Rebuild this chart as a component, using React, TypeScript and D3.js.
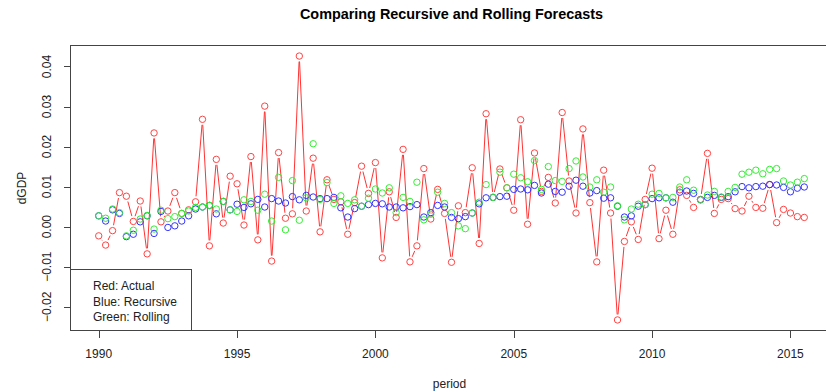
import * as d3 from 'd3';

// quarterly series, starting 1990 Q1
const startYear = 1990;
const frequency = 4;

const actual = [
  -0.0023, -0.0046, -0.001, 0.0085, 0.0076, 0.0013, 0.0064, -0.0068, 0.0234, 0.0012,
  0.0039, 0.0085, 0.0033, 0.0042, 0.0062, 0.0268, -0.0048, 0.0168, 0.0009, 0.0126,
  0.0107, 0.0004, 0.0175, -0.0033, 0.0301, -0.0086, 0.0185, 0.0021, 0.0032, 0.0426,
  0.0039, 0.0171, -0.0013, 0.0117, 0.0068, 0.0062, -0.0019, 0.006, 0.0151, 0.0083,
  0.016, -0.0078, 0.0087, 0.0023, 0.0193, -0.0088, -0.0048, 0.0145, 0.0019, 0.0093,
  0.0033, -0.0089, 0.0052, 0.0035, 0.0147, -0.0042, 0.0282, 0.0073, 0.0144, 0.0097,
  0.0041, 0.0267, 0.0006, 0.0184, 0.0088, 0.0123, 0.0059, 0.0285, 0.0114, 0.0034,
  0.0244, 0.006, -0.0088, 0.0141, 0.0034, -0.0233, -0.0037, 0.0012, -0.0032, 0.0068,
  0.0146, -0.003, 0.0041, -0.0019, 0.0092, 0.0078, 0.0048, 0.0068, 0.0183, 0.0033,
  0.0068, 0.007, 0.0045, 0.0039, 0.0076, 0.0048, 0.0046, 0.0105, 0.001, 0.0043,
  0.0034, 0.0025, 0.0023,
];

const recursive = [
  0.0027, 0.0014, 0.0042, 0.0033, -0.0025, -0.0019, 0.0012, 0.0027, -0.0017, 0.0038,
  -0.0002, 0.0002, 0.0014, 0.0027, 0.0044, 0.0049, 0.0053, 0.0032, 0.0063, 0.0042,
  0.0056, 0.0048, 0.0057, 0.0068, 0.0049, 0.007, 0.0064, 0.0059, 0.0075, 0.0067,
  0.0078, 0.0074, 0.007, 0.007, 0.0073, 0.0047, 0.0024, 0.0045, 0.0051, 0.0055,
  0.0058, 0.0057, 0.0049, 0.0049, 0.0047, 0.005, 0.0055, 0.0024, 0.0035, 0.0053,
  0.0049, 0.0023, 0.002, 0.0025, 0.0034, 0.0057, 0.0072, 0.0073, 0.0075, 0.0076,
  0.0093, 0.0094, 0.0092, 0.0103, 0.0084, 0.0106, 0.0088, 0.0086, 0.0101, 0.0116,
  0.0101, 0.0084, 0.009, 0.0071, 0.0072, 0.0051, 0.0024, 0.0027, 0.0051, 0.0055,
  0.007, 0.0072, 0.0072, 0.0061, 0.0086, 0.0089, 0.0083, 0.0067, 0.0073, 0.0078,
  0.0073, 0.0075, 0.0087, 0.01, 0.0097, 0.01, 0.0101, 0.0105, 0.0104, 0.0098,
  0.0087, 0.0096, 0.0099,
];

const rolling = [
  0.0027, 0.0021, 0.0044, 0.0035, -0.0023, -0.0009, 0.0019, 0.0028, -0.0006, 0.0041,
  0.002, 0.0025, 0.0033, 0.0039, 0.0048, 0.0049, 0.0053, 0.0044, 0.0063, 0.0042,
  0.0038, 0.0067, 0.0063, 0.0041, 0.0081, 0.0014, 0.0123, -0.0008, 0.0115, 0.0016,
  0.0072, 0.0207, 0.0068, 0.011, 0.0058, 0.0077, 0.0058, 0.0067, 0.0051, 0.0071,
  0.0094, 0.0084, 0.0097, 0.0035, 0.0073, 0.0063, 0.0111, 0.0017, 0.0031, 0.0086,
  0.0058, 0.0035, 0.0002, -0.0005, 0.0034, 0.0061, 0.0105, 0.0073, 0.0136, 0.0097,
  0.0131, 0.0122, 0.0112, 0.0165, 0.0093, 0.015, 0.0115, 0.0113, 0.0145, 0.0164,
  0.0124, 0.0099, 0.0117, 0.0086, 0.0099, 0.0052, 0.0017, 0.0044, 0.0056, 0.0055,
  0.0081, 0.0083, 0.0072, 0.0073, 0.0099, 0.0117, 0.0091, 0.0067, 0.0079, 0.0088,
  0.0074, 0.0088, 0.0098, 0.0131, 0.0136, 0.0141, 0.0132, 0.0143, 0.0145, 0.0114,
  0.0104, 0.0111, 0.012,
];

const xTicks = [1990, 1995, 2000, 2005, 2010, 2015];
const yTicks = [-0.02, -0.01, 0, 0.01, 0.02, 0.03, 0.04];
const legendLines = ['Red: Actual', 'Blue: Recursive', 'Green: Rolling'];

const width = 826;
const height = 392;
const plot = { left: 70.5, right: 832.5, top: 45.5, bottom: 330.5 };
const font = '"Liberation Sans", Arial, sans-serif';
const ink = '#222';
const axisInk = '#444';

const period = actual.map((_, i) => startYear + i / frequency);

// R style 4% padding around the data range
const pad = (ext: [number, number]) => {
  const d = (ext[1] - ext[0]) * 0.04;
  return [ext[0] - d, ext[1] + d];
};

const xScale = d3
  .scaleLinear()
  .domain(pad(d3.extent(period) as [number, number]))
  .range([plot.left, plot.right]);

const yScale = d3
  .scaleLinear()
  .domain(pad(d3.extent([...actual, ...recursive, ...rolling]) as [number, number]))
  .range([plot.bottom, plot.top]);

const snap = (v: number) => Math.round(v) + 0.5;

// type = "b": segments stop short of each point
const gap = 5.5;
const segments = actual.slice(1).map((v, i) => {
  const x1 = xScale(period[i]);
  const y1 = yScale(actual[i]);
  const x2 = xScale(period[i + 1]);
  const y2 = yScale(v);
  const d = Math.hypot(x2 - x1, y2 - y1);
  if (d <= 2 * gap) return null;
  const ux = (x2 - x1) / d;
  const uy = (y2 - y1) / d;
  return [x1 + ux * gap, y1 + uy * gap, x2 - ux * gap, y2 - uy * gap];
});

const Points = ({ values, color }: { values: number[]; color: string }) => (
  <g fill="none" stroke={color} strokeWidth={1}>
    {values.map((v, i) => (
      <circle key={i} cx={xScale(period[i])} cy={yScale(v)} r={3.2} />
    ))}
  </g>
);

const App = () => {
  return (
    <div style={{ position: 'fixed', left: 0, top: 0 }}>
      <svg width={width} height={height} style={{ display: 'block', background: '#fff' }}>
        <text
          x={(plot.left + plot.right) / 2}
          y={19}
          textAnchor="middle"
          fontFamily={font}
          fontWeight="bold"
          fontSize={14.4}
          fill="#000"
        >
          Comparing Recursive and Rolling Forecasts
        </text>

        <g stroke="#ff3333" strokeWidth={1}>
          {segments.map((s, i) =>
            s ? <line key={i} x1={s[0]} y1={s[1]} x2={s[2]} y2={s[3]} /> : null
          )}
        </g>
        <Points values={actual} color="#ff4444" />
        <Points values={recursive} color="#3333ff" />
        <Points values={rolling} color="#33ee33" />

        <rect
          x={plot.left}
          y={plot.top}
          width={plot.right - plot.left}
          height={plot.bottom - plot.top}
          fill="none"
          stroke={axisInk}
          shapeRendering="crispEdges"
        />

        {/* x axis */}
        <g fontFamily={font} fontSize={12}>
          {xTicks.map((t) => (
            <g key={t}>
              <line
                x1={snap(xScale(t))}
                x2={snap(xScale(t))}
                y1={plot.bottom}
                y2={plot.bottom + 7}
                stroke={axisInk}
                shapeRendering="crispEdges"
              />
              <text x={xScale(t)} y={358} textAnchor="middle" fill={ink}>
                {t}
              </text>
            </g>
          ))}
          <text x={(plot.left + plot.right) / 2 - 2} y={387.5} textAnchor="middle" fill={ink}>
            period
          </text>
        </g>

        {/* y axis */}
        <g fontFamily={font} fontSize={12}>
          {yTicks.map((t) => (
            <g key={t}>
              <line
                x1={plot.left - 7}
                x2={plot.left}
                y1={snap(yScale(t))}
                y2={snap(yScale(t))}
                stroke={axisInk}
                shapeRendering="crispEdges"
              />
              <text
                transform={`translate(${plot.left - 20},${yScale(t)}) rotate(-90)`}
                textAnchor="middle"
                fill={ink}
              >
                {d3.format('.2f')(t)}
              </text>
            </g>
          ))}
          <text
            transform={`translate(26,${(plot.top + plot.bottom) / 2}) rotate(-90)`}
            textAnchor="middle"
            fill={ink}
          >
            dGDP
          </text>
        </g>

        {/* legend */}
        <g fontFamily={font} fontSize={12}>
          <rect
            x={plot.left}
            y={269.5}
            width={121}
            height={plot.bottom - 269.5}
            fill="#fff"
            stroke={axisInk}
            shapeRendering="crispEdges"
          />
          {legendLines.map((l, i) => (
            <text key={l} x={93} y={290 + i * 15.7} fill={ink}>
              {l}
            </text>
          ))}
        </g>
      </svg>
    </div>
  );
};

export default App;
